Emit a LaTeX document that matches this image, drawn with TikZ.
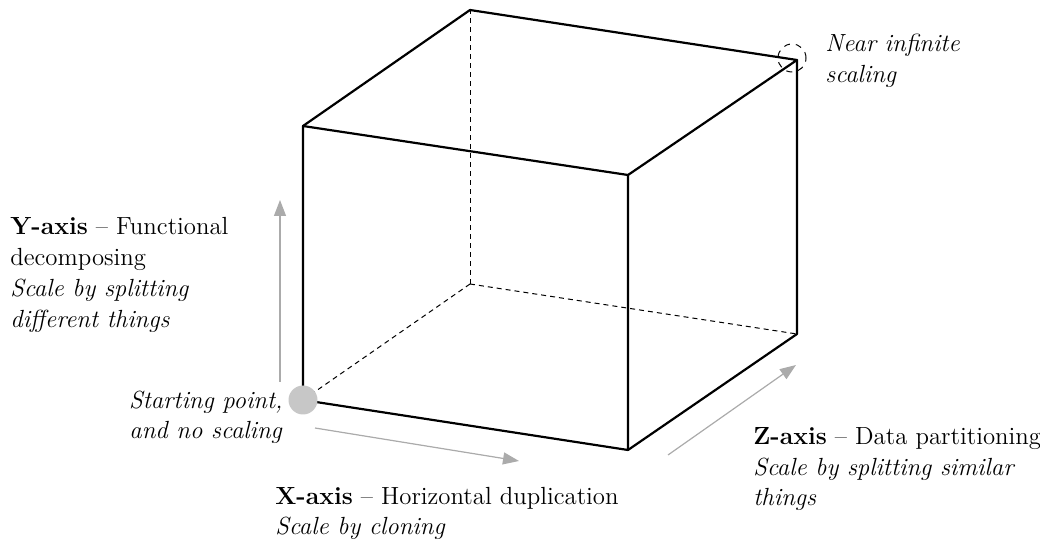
\documentclass[tikz,border=0pt]{standalone}
\usepackage{tikz}
\usetikzlibrary{arrows.meta}

\begin{document}
\begin{tikzpicture}[
    x=0.5pt,
    y=-0.5pt,
    >={Triangle[length=8pt,width=6pt]},
    edge/.style={
        line width=1.1pt,
        line join=round
    },
    hidden/.style={
        line width=0.5pt,
        dash pattern=on 2.5pt off 2pt
    },
    axis/.style={
        ->,
        draw=black!33,
        fill=black!33,
        line width=0.6pt
    },
    txt/.style={
        font=\fontsize{12.4}{15.5}\selectfont,
        align=left,
        inner sep=0pt
    }
]

    \useasboundingbox (0,0) rectangle (1040,545);

    % Cube corners
    \coordinate (F1) at (303,400);
    \coordinate (F2) at (628,450);
    \coordinate (F3) at (628,175);
    \coordinate (F4) at (303,126);
    \coordinate (B1) at (470,284);
    \coordinate (B2) at (797,334);
    \coordinate (B3) at (797,60);
    \coordinate (B4) at (470,10);

    % Hidden edges
    \draw[hidden] (B1) -- (F1);
    \draw[hidden] (B1) -- (B4);
    \draw[hidden] (B1) -- (B2);

    % Visible edges
    \draw[edge] (F1) -- (F2) -- (F3) -- (F4) -- cycle;
    \draw[edge] (F4) -- (B4) -- (B3) -- (F3);
    \draw[edge] (B3) -- (B2) -- (F2);

    % Start and far corner
    \node[circle, fill=black!22, minimum size=14.5pt, inner sep=0pt] (start) at (F1) {};
    \node[circle, draw, dashed, line width=0.5pt, minimum size=14pt, inner sep=0pt] (far) at (792,58) {};

    % Axes
    \coordinate (Y0) at (280,382);
    \coordinate (Y1) at (280,200);
    \coordinate (X0) at (315,428);
    \coordinate (X1) at (519,461);
    \coordinate (Z0) at (668,455);
    \coordinate (Z1) at (796,365);
    \draw[axis] (Y0) -- (Y1);
    \draw[axis] (X0) -- (X1);
    \draw[axis] (Z0) -- (Z1);

    % Labels (base = last line)
    \node[txt, anchor=base west] (ylab) at (10,328)
        {\textbf{Y-axis} -- Functional\\decomposing\\\textit{Scale by splitting}\\\textit{different things}};

    \node[txt, anchor=base east, align=right] (slab) at (283,439)
        {\textit{Starting point,}\\\textit{and no scaling}};

    \node[txt, anchor=base west] (xlab) at (275,535)
        {\textbf{X-axis} -- Horizontal duplication\\\textit{Scale by cloning}};

    \node[txt, anchor=base west] (zlab) at (753,506)
        {\textbf{Z-axis} -- Data partitioning\\\textit{Scale by splitting similar}\\\textit{things}};

    \node[txt, anchor=base west] (flab) at (825,83)
        {\textit{Near infinite}\\\textit{scaling}};

\end{tikzpicture}
\end{document}
